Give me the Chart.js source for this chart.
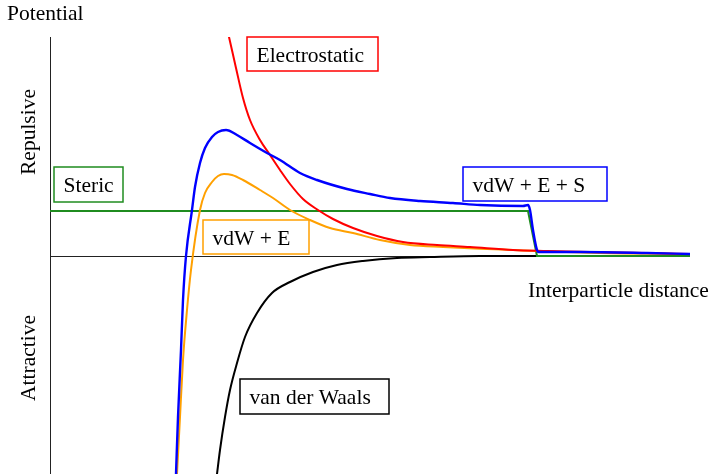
<!DOCTYPE html>
<html>
<head>
<meta charset="utf-8">
<title>Potential vs interparticle distance</title>
<script src="https://cdn.jsdelivr.net/npm/chart.js@4.4.1/dist/chart.umd.min.js"></script>
<style>
  html, body { margin: 0; padding: 0; background: #fff; }
  #wrap { width: 713px; height: 474px; position: relative; }
</style>
</head>
<body>
<div id="wrap"><canvas id="dlvo"></canvas></div>
<script>
// Valores (distância e potencial em unidades arbitrárias)
const stericX = [0, 478, 487, 640];
const stericY = [45, 45, 0, 0];

const electroX = [175, 179, 186, 193, 200, 210, 220, 230, 240, 253, 268, 283, 303, 327, 353, 387, 420, 463, 497, 540, 597, 640];
const electroY = [236, 219, 188, 158, 136, 116, 101, 86, 72, 57, 46, 37, 28, 20, 14, 11, 9, 6, 5, 4, 3, 2];

const vdwX = [167, 170, 175, 180, 187, 195, 207, 222, 240, 263, 287, 313, 347, 380, 430, 640];
const vdwY = [-218, -194, -161, -134, -107, -81, -57, -37, -26, -16, -9, -5, -2, -1, 0, 0];

const vdwEX = [127, 130, 133, 137, 141, 150, 155, 162, 168, 174, 182, 193, 210, 223, 240, 260, 280, 303, 330, 360, 393, 437, 463, 487, 550, 640];
const vdwEY = [-218, -161, -104, -54, -14, 46, 63, 74, 80, 82, 81, 76, 66, 58, 46, 36, 28, 23, 16, 11, 9, 7, 6, 5, 3, 2];

const totalX = [126, 128, 131, 133, 136, 142, 145, 150, 155, 162, 168, 176, 187, 200, 217, 230, 250, 267, 297, 320, 340, 370, 403, 430, 473, 478, 480, 483, 487, 489, 530, 597, 640];
const totalY = [-218, -161, -94, -44, 0, 46, 69, 93, 108, 119, 124, 126, 121, 113, 103, 96, 83, 76, 67, 62, 58, 55, 53, 51, 50, 51, 46, 26, 6, 4, 4, 3, 2];

const xRange = [0, 640];
const yRange = [-218, 219];

function toPoints(xs, ys) {
    return xs.map((x, i) => ({ x: x, y: ys[i] }));
}

const SERIF = '"Liberation Serif", "Times New Roman", serif';

// Caixas de legenda e textos fixos
const boxes = [
    { text: 'Electrostatic', color: '#ff0000', x: 247, y: 37, w: 131, h: 34 },
    { text: 'Steric', color: '#1f8c1f', x: 54, y: 167, w: 69, h: 35 },
    { text: 'vdW + E + S', color: '#0000ff', x: 463, y: 167, w: 144, h: 34 },
    { text: 'vdW + E', color: '#ffa000', x: 203, y: 220, w: 106, h: 34 },
    { text: 'van der Waals', color: '#000000', x: 240, y: 379, w: 149, h: 35 }
];

const axesAndLabels = {
    id: 'axesAndLabels',
    beforeDatasetsDraw(chart) {
        const { ctx, chartArea, scales } = chart;
        const x0 = scales.x.getPixelForValue(0);
        const y0 = scales.y.getPixelForValue(0);
        ctx.save();
        ctx.strokeStyle = '#222';
        ctx.lineWidth = 1;
        ctx.beginPath();
        ctx.moveTo(Math.round(x0) + 0.5, chartArea.top);
        ctx.lineTo(Math.round(x0) + 0.5, chartArea.bottom);
        ctx.moveTo(x0, Math.round(y0) + 0.5);
        ctx.lineTo(chartArea.right, Math.round(y0) + 0.5);
        ctx.stroke();
        ctx.restore();
    },
    afterDatasetsDraw(chart) {
        const { ctx } = chart;
        ctx.save();
        ctx.font = '21.5px ' + SERIF;
        ctx.fillStyle = '#000';
        ctx.textBaseline = 'alphabetic';
        ctx.textAlign = 'left';

        ctx.fillText('Potential', 7, 20);
        ctx.fillText('Interparticle distance', 528, 297);

        // rótulos verticais
        ctx.textAlign = 'center';
        ctx.save();
        ctx.translate(35, 132);
        ctx.rotate(-Math.PI / 2);
        ctx.fillText('Repulsive', 0, 0);
        ctx.restore();
        ctx.save();
        ctx.translate(35, 358);
        ctx.rotate(-Math.PI / 2);
        ctx.fillText('Attractive', 0, 0);
        ctx.restore();

        ctx.textAlign = 'left';
        boxes.forEach(b => {
            ctx.fillStyle = '#fff';
            ctx.fillRect(b.x, b.y, b.w, b.h);
            ctx.strokeStyle = b.color;
            ctx.lineWidth = 1.5;
            ctx.strokeRect(b.x, b.y, b.w, b.h);
            ctx.fillStyle = '#000';
            ctx.fillText(b.text, b.x + 9.5, b.y + 25);
        });
        ctx.restore();
    }
};

const lineStyle = {
    pointRadius: 0,
    borderWidth: 2,
    fill: false,
    cubicInterpolationMode: 'monotone'
};

new Chart(document.getElementById('dlvo'), {
    type: 'line',
    data: {
        datasets: [
            { ...lineStyle, label: 'vdW + E + S', data: toPoints(totalX, totalY), borderColor: '#0000ff', borderWidth: 2.4, order: 0 },
            { ...lineStyle, label: 'Electrostatic', data: toPoints(electroX, electroY), borderColor: '#ff0000', order: 1 },
            { ...lineStyle, label: 'vdW + E', data: toPoints(vdwEX, vdwEY), borderColor: '#ffa000', order: 2 },
            { ...lineStyle, label: 'Steric', data: toPoints(stericX, stericY), borderColor: '#1f8c1f', cubicInterpolationMode: 'default', tension: 0, order: 3 },
            { ...lineStyle, label: 'van der Waals', data: toPoints(vdwX, vdwY), borderColor: '#000000', order: 4 }
        ]
    },
    options: {
        responsive: true,
        maintainAspectRatio: false,
        animation: false,
        layout: { padding: { left: 50, top: 37, right: 23, bottom: 0 } },
        scales: {
            x: { type: 'linear', min: xRange[0], max: xRange[1], display: false },
            y: { type: 'linear', min: yRange[0], max: yRange[1], display: false }
        },
        plugins: {
            legend: { display: false },
            tooltip: { enabled: false }
        }
    },
    plugins: [axesAndLabels]
});
</script>
</body>
</html>
